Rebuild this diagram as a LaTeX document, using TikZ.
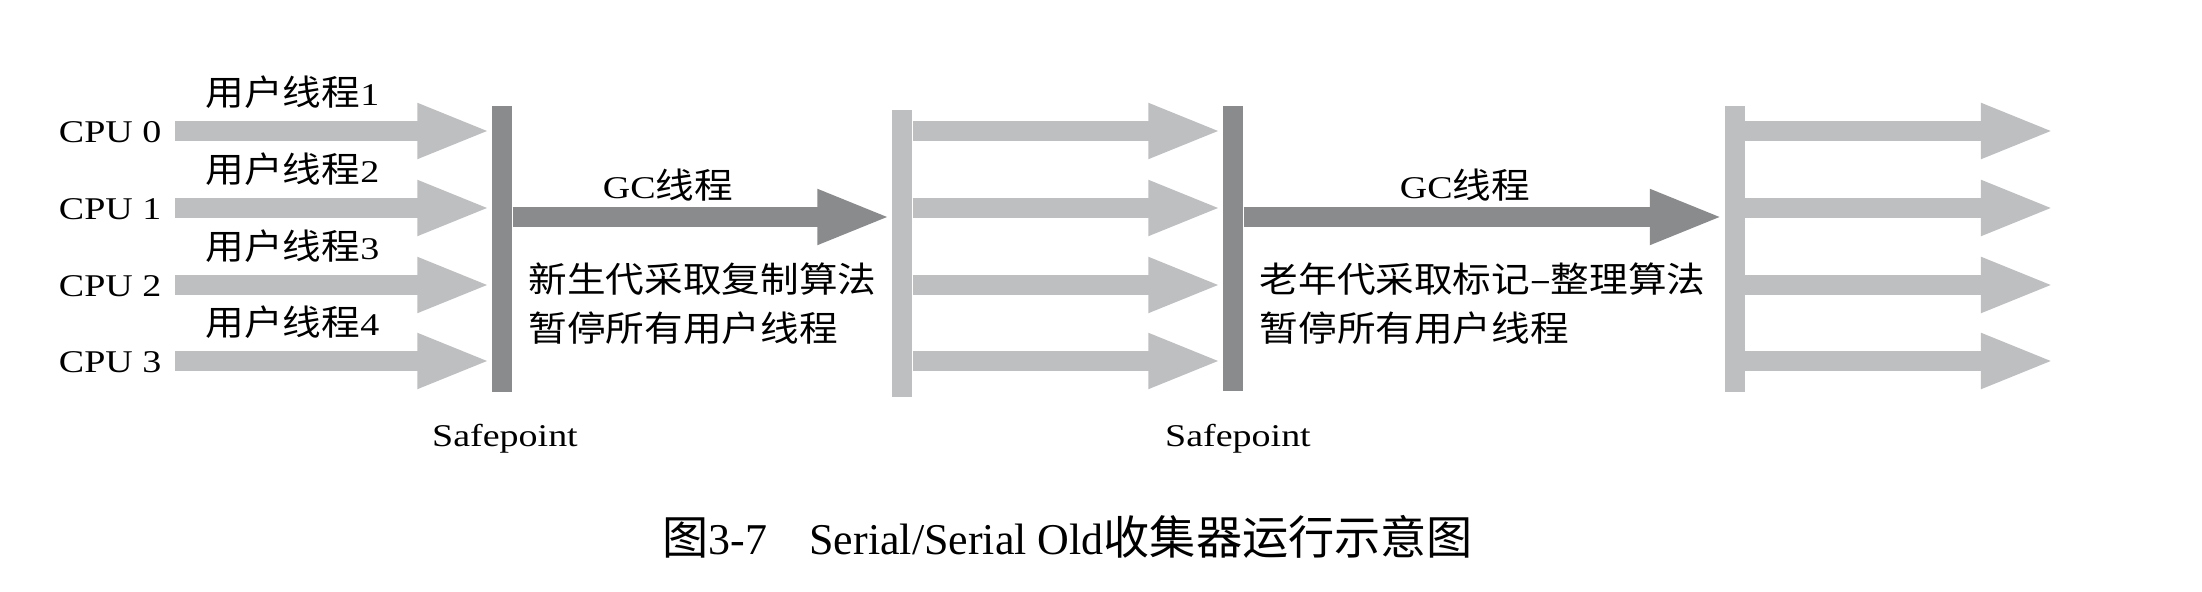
\documentclass[tikz,border=0pt]{standalone}
\usepackage{fontspec}
\setmainfont{Liberation Serif}[FakeStretch=1.2]
\newfontfamily\cjk{Noto Sans CJK SC}[FakeStretch=1.1,Scale=1.11]
\newfontfamily\caplat{Liberation Serif}
\newfontfamily\capcjk{Noto Sans CJK SC}[Scale=1.05]
\usetikzlibrary{arrows.meta}
\definecolor{lightg}{RGB}{190,191,193}
\definecolor{darkg}{RGB}{138,139,141}
\tikzset{
  sbar/.style={rectangle, inner sep=0pt, minimum width=0.2cm, draw=none},
  blockarrow/.style={line width=0.2cm, -{Triangle[length=0.74cm,width=0.5cm]}},
  ua/.style={blockarrow, draw=lightg},
  ga/.style={blockarrow, draw=darkg},
  lbl/.style={inner sep=0pt, font=\fontsize{9pt}{14.2pt}\selectfont},
  desc/.style={lbl, align=left, anchor=base west},
}
\begin{document}
\begin{tikzpicture}[x=0.01cm,y=-0.01cm]
\useasboundingbox (0,0) rectangle (2202,592);
% bars
\node[sbar, fill=darkg, minimum height=2.86cm] (b1) at (502,249) {};
\node[sbar, fill=lightg, minimum height=2.87cm] (b2) at (902,253.5) {};
\node[sbar, fill=darkg, minimum height=2.85cm] (b3) at (1233,248.5) {};
\node[sbar, fill=lightg, minimum height=2.86cm] (b4) at (1734.5,249) {};
% row coordinates
\coordinate (u0) at (175,131);
\coordinate (u1) at (175,208);
\coordinate (u2) at (175,285);
\coordinate (u3) at (175,361);
\coordinate (e0) at (2055,131);
\coordinate (e1) at (2055,208);
\coordinate (e2) at (2055,285);
\coordinate (e3) at (2055,361);
\coordinate (g) at (700,217);
% CPU labels
\node[lbl, anchor=east] (c0) at (162,132) {CPU 0};
\node[lbl, anchor=east] (c1) at (162,209) {CPU 1};
\node[lbl, anchor=east] (c2) at (162,286) {CPU 2};
\node[lbl, anchor=east] (c3) at (162,362) {CPU 3};
% user thread labels
\node[lbl, anchor=west] (t0) at (205,92) {{\cjk 用户线程}1};
\node[lbl, anchor=west] (t1) at (205,169) {{\cjk 用户线程}2};
\node[lbl, anchor=west] (t2) at (205,246) {{\cjk 用户线程}3};
\node[lbl, anchor=west] (t3) at (205,322) {{\cjk 用户线程}4};
% user arrows
\foreach \i in {0,1,2,3} {
  \draw[ua] (u\i) -- (b1.west |- u\i);
  \draw[ua] (b2.east |- u\i) -- (b3.west |- u\i);
  \draw[ua] (b4.east |- e\i) -- (e\i);
}
% GC arrows
\draw[ga] (b1.east |- g) -- (b2.west |- g);
\draw[ga] (b3.east |- g) -- (b4.west |- g);
\node[lbl] (gc1) at (668,185) {GC{\cjk 线程}};
\node[lbl] (gc2) at (1465,185) {GC{\cjk 线程}};
% descriptions (base = baseline of the last line)
\node[desc] (d1) at (528,342) {{\cjk 新生代采取复制算法}\\{\cjk 暂停所有用户线程}};
\node[desc] (d2) at (1259,342) {{\cjk 老年代采取标记–整理算法}\\{\cjk 暂停所有用户线程}};
% safepoints
\node[lbl, anchor=base] (s1) at (505,447) {Safepoint};
\node[lbl, anchor=base] (s2) at (1238,447) {Safepoint};
% caption
\node[inner sep=0pt, anchor=base west, font=\fontsize{12.5pt}{15pt}\selectfont] (cap) at (662,555)
  {{\capcjk 图}{\caplat 3-7}\hspace{0.42cm}{\caplat Serial/Serial Old}{\capcjk 收集器运行示意图}};
\end{tikzpicture}
\end{document}
